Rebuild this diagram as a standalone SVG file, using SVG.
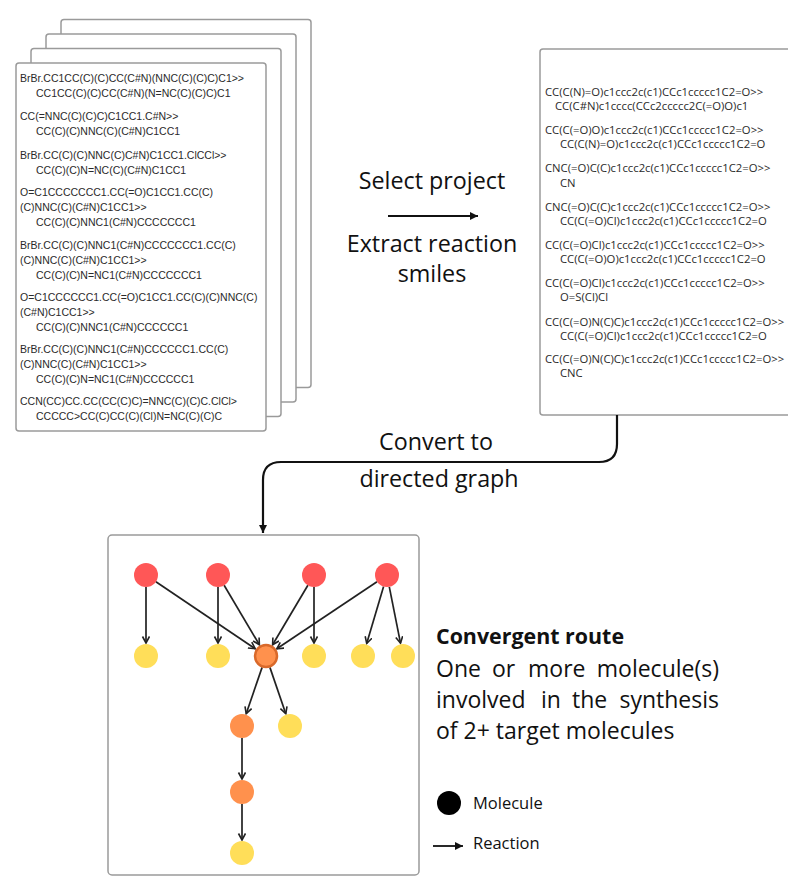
<svg xmlns="http://www.w3.org/2000/svg" width="788" height="876" viewBox="0 0 788 876">
<style>
.card{fill:#fff;stroke:#9a9a9a;stroke-width:1.5}
.sm{font-family:"Liberation Sans",Arial,sans-serif;font-size:10.5px;fill:#2a2a2a}
.sr{font-family:"Open Sans","Noto Sans",sans-serif;font-size:11.3px;fill:#2a2a2a}
.lbl{font-family:"Open Sans","Noto Sans",sans-serif;font-size:23.3px;fill:#111}
.big{font-family:"Open Sans","Noto Sans",sans-serif;font-size:23px;fill:#111}
.bold{font-family:"Open Sans","Noto Sans",sans-serif;font-size:21.4px;font-weight:bold;fill:#111}
.leg{font-family:"Open Sans","Noto Sans",sans-serif;font-size:16.5px;fill:#111}
.edge{stroke:#222;stroke-width:1.7;fill:none;marker-end:url(#ah)}
.red{fill:#FF5757}
.yel{fill:#FFDE59}
.org{fill:#FF914D}
</style>
<defs>
<marker id="ah" markerUnits="userSpaceOnUse" markerWidth="9" markerHeight="9" refX="7" refY="4" orient="auto">
<path d="M0.5,0.5 L7,4 L0.5,7.5" fill="none" stroke="#222" stroke-width="1.6"/>
</marker>
<marker id="tri" markerUnits="userSpaceOnUse" markerWidth="10" markerHeight="10" refX="8" refY="4" orient="auto">
<path d="M0,0 L8,4 L0,8 z" fill="#111"/>
</marker>
</defs>

<g id="reaction-stack">
<rect class="card" x="61" y="19.5" width="250" height="368" rx="3"/>
<rect class="card" x="46" y="34" width="250" height="368" rx="3"/>
<rect class="card" x="31" y="48.5" width="250" height="368" rx="3"/>
<rect class="card" x="16" y="63" width="250" height="368" rx="3"/>
<text class="sm">
<tspan x="20" y="82">BrBr.CC1CC(C)(C)CC(C#N)(NNC(C)(C)C)C1&gt;&gt;</tspan>
<tspan x="36" y="97">CC1CC(C)(C)CC(C#N)(N=NC(C)(C)C)C1</tspan>
<tspan x="20" y="120">CC(=NNC(C)(C)C)C1CC1.C#N&gt;&gt;</tspan>
<tspan x="36" y="135">CC(C)(C)NNC(C)(C#N)C1CC1</tspan>
<tspan x="20" y="159">BrBr.CC(C)(C)NNC(C)C#N)C1CC1.ClCCl&gt;&gt;</tspan>
<tspan x="36" y="174">CC(C)(C)N=NC(C)(C#N)C1CC1</tspan>
<tspan x="20" y="196">O=C1CCCCCCC1.CC(=O)C1CC1.CC(C)</tspan>
<tspan x="20" y="211">(C)NNC(C)(C#N)C1CC1&gt;&gt;</tspan>
<tspan x="36" y="226">CC(C)(C)NNC1(C#N)CCCCCCC1</tspan>
<tspan x="20" y="249">BrBr.CC(C)(C)NNC1(C#N)CCCCCCC1.CC(C)</tspan>
<tspan x="20" y="264">(C)NNC(C)(C#N)C1CC1&gt;&gt;</tspan>
<tspan x="36" y="279">CC(C)(C)N=NC1(C#N)CCCCCCC1</tspan>
<tspan x="20" y="301">O=C1CCCCCC1.CC(=O)C1CC1.CC(C)(C)NNC(C)</tspan>
<tspan x="20" y="316">(C#N)C1CC1&gt;&gt;</tspan>
<tspan x="36" y="331">CC(C)(C)NNC1(C#N)CCCCCC1</tspan>
<tspan x="20" y="353">BrBr.CC(C)(C)NNC1(C#N)CCCCCC1.CC(C)</tspan>
<tspan x="20" y="368">(C)NNC(C)(C#N)C1CC1&gt;&gt;</tspan>
<tspan x="36" y="383">CC(C)(C)N=NC1(C#N)CCCCCC1</tspan>
<tspan x="20" y="405">CCN(CC)CC.CC(CC(C)C)=NNC(C)(C)C.ClCl&gt;</tspan>
<tspan x="36" y="420">CCCCC&gt;CC(C)CC(C)(Cl)N=NC(C)(C)C</tspan>
</text>
</g>

<g id="project-smiles">
<rect class="card" x="540" y="49" width="262" height="366" rx="3"/>
<text class="sr">
<tspan x="545" y="96">CC(C(N)=O)c1ccc2c(c1)CCc1ccccc1C2=O&gt;&gt;</tspan>
<tspan x="555" y="109.5">CC(C#N)c1cccc(CCc2ccccc2C(=O)O)c1</tspan>
<tspan x="545" y="134">CC(C(=O)O)c1ccc2c(c1)CCc1ccccc1C2=O&gt;&gt;</tspan>
<tspan x="560" y="148">CC(C(N)=O)c1ccc2c(c1)CCc1ccccc1C2=O</tspan>
<tspan x="545" y="172">CNC(=O)C(C)c1ccc2c(c1)CCc1ccccc1C2=O&gt;&gt;</tspan>
<tspan x="560" y="187">CN</tspan>
<tspan x="545" y="210.5">CNC(=O)C(C)c1ccc2c(c1)CCc1ccccc1C2=O&gt;&gt;</tspan>
<tspan x="560" y="224.5">CC(C(=O)Cl)c1ccc2c(c1)CCc1ccccc1C2=O</tspan>
<tspan x="545" y="249">CC(C(=O)Cl)c1ccc2c(c1)CCc1ccccc1C2=O&gt;&gt;</tspan>
<tspan x="560" y="263">CC(C(=O)O)c1ccc2c(c1)CCc1ccccc1C2=O</tspan>
<tspan x="545" y="287">CC(C(=O)Cl)c1ccc2c(c1)CCc1ccccc1C2=O&gt;&gt;</tspan>
<tspan x="560" y="301">O=S(Cl)Cl</tspan>
<tspan x="545" y="325.5">CC(C(=O)N(C)C)c1ccc2c(c1)CCc1ccccc1C2=O&gt;&gt;</tspan>
<tspan x="560" y="339.5">CC(C(=O)Cl)c1ccc2c(c1)CCc1ccccc1C2=O</tspan>
<tspan x="545" y="363">CC(C(=O)N(C)C)c1ccc2c(c1)CCc1ccccc1C2=O&gt;&gt;</tspan>
<tspan x="560" y="377">CNC</tspan>
</text>
</g>

<g id="step-labels">
<text class="lbl" x="432" y="189" text-anchor="middle">Select project</text>
<text class="lbl" x="432" y="252" text-anchor="middle">Extract reaction</text>
<text class="lbl" x="432" y="282" text-anchor="middle">smiles</text>
<text class="lbl" x="436" y="450" text-anchor="middle">Convert to</text>
<text class="lbl" x="439" y="487" text-anchor="middle">directed graph</text>
</g>

<g id="connectors">
<line x1="388" y1="216" x2="478" y2="216" stroke="#111" stroke-width="2" marker-end="url(#tri)"/>
<path d="M617,415 V444 Q617,462 599,462 H281 Q263,462 263,480 V533" fill="none" stroke="#111" stroke-width="2.2" marker-end="url(#tri)"/>
</g>

<g id="graph-panel">
<rect class="card" x="108" y="535" width="311" height="340" rx="4"/>
</g>

<g id="graph-edges">
<line class="edge" x1="146" y1="587" x2="146" y2="643"/>
<line class="edge" x1="155.9" y1="581.7" x2="255.2" y2="648.7"/>
<line class="edge" x1="218" y1="587" x2="218" y2="643"/>
<line class="edge" x1="224.1" y1="585.3" x2="259.4" y2="644.8"/>
<line class="edge" x1="307.9" y1="585.3" x2="272.6" y2="644.8"/>
<line class="edge" x1="314" y1="587" x2="314" y2="643"/>
<line class="edge" x1="377" y1="581.7" x2="276.8" y2="648.8"/>
<line class="edge" x1="383.6" y1="586.5" x2="366.7" y2="643.5"/>
<line class="edge" x1="389.3" y1="586.8" x2="400.5" y2="643.2"/>
<line class="edge" x1="262.1" y1="667.4" x2="246.2" y2="713.7"/>
<line class="edge" x1="269.9" y1="667.4" x2="285.8" y2="713.7"/>
<line class="edge" x1="242" y1="738" x2="242" y2="779"/>
<line class="edge" x1="242" y1="804" x2="242" y2="840"/>
</g>

<g id="n-r1"><circle class="red" cx="146" cy="575" r="12"/></g>
<g id="n-r2"><circle class="red" cx="218" cy="575" r="12"/></g>
<g id="n-r3"><circle class="red" cx="314" cy="575" r="12"/></g>
<g id="n-r4"><circle class="red" cx="387" cy="575" r="12"/></g>
<g id="n-y1"><circle class="yel" cx="146" cy="656" r="12"/></g>
<g id="n-y2"><circle class="yel" cx="218" cy="656" r="12"/></g>
<g id="n-hub"><circle class="org" cx="266" cy="656" r="11" stroke="#D9692A" stroke-width="2.5"/></g>
<g id="n-y3"><circle class="yel" cx="314" cy="656" r="12"/></g>
<g id="n-y4"><circle class="yel" cx="363" cy="656" r="12"/></g>
<g id="n-y5"><circle class="yel" cx="403" cy="656" r="12"/></g>
<g id="n-o1"><circle class="org" cx="242" cy="726" r="12"/></g>
<g id="n-y6"><circle class="yel" cx="290" cy="726" r="12"/></g>
<g id="n-o2"><circle class="org" cx="242" cy="792" r="12"/></g>
<g id="n-y7"><circle class="yel" cx="242" cy="853" r="12"/></g>

<g id="description">
<text class="bold" x="436" y="644">Convergent route</text>
<text class="big" y="677"><tspan x="436">One</tspan><tspan x="492">or</tspan><tspan x="528">more</tspan><tspan x="719" text-anchor="end">molecule(s)</tspan></text>
<text class="big" y="708"><tspan x="436">involved</tspan><tspan x="541">in</tspan><tspan x="572">the</tspan><tspan x="719" text-anchor="end">synthesis</tspan></text>
<text class="big" x="436" y="739">of 2+ target molecules</text>
</g>

<g id="legend">
<circle cx="449" cy="803" r="12" fill="#000"/>
<text class="leg" x="473" y="809">Molecule</text>
<line x1="433" y1="846" x2="463" y2="846" stroke="#111" stroke-width="1.8" marker-end="url(#tri)"/>
<text class="leg" x="473" y="849">Reaction</text>
</g>
</svg>
